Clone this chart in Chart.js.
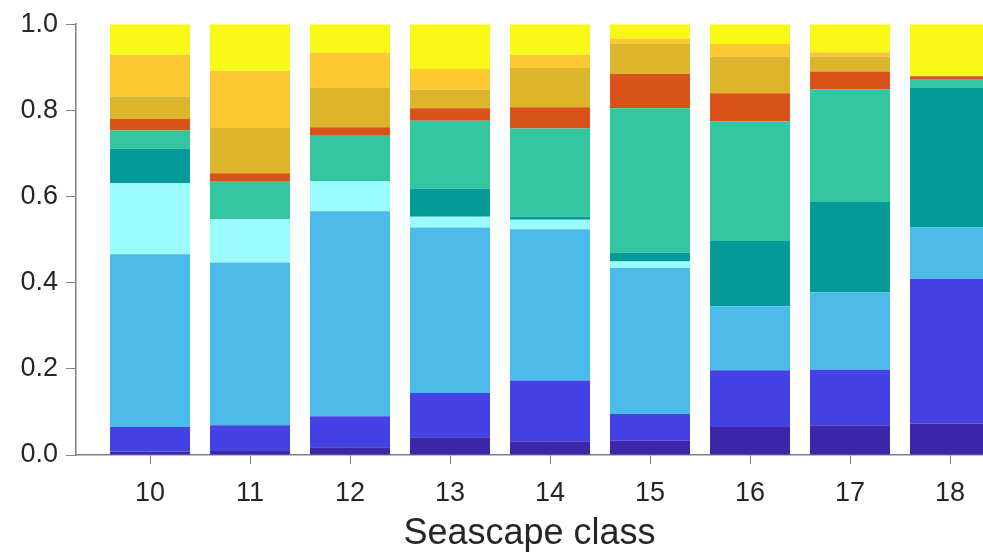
<!DOCTYPE html>
<html>
<head>
<meta charset="utf-8">
<title>Seascape class composition</title>
<script src="https://cdn.jsdelivr.net/npm/chart.js@4.4.0/dist/chart.umd.min.js"></script>
<style>
  html, body { margin: 0; padding: 0; background: #ffffff; }
  #wrap { width: 983px; height: 556px; }
</style>
</head>
<body>
<div id="wrap"><canvas id="seascapeChart" width="983" height="556"></canvas></div>
<script>
// seascape classes on the x axis
const seascapeClasses = [10, 11, 12, 13, 14, 15, 16, 17, 18];
const xTicks = [10, 11, 12, 13, 14, 15, 16, 17, 18];
const yTicks = [0, 0.2, 0.4, 0.6, 0.8, 1.0];

// fractions per class, bottom segment first
const group1 = [0.008, 0.009, 0.018, 0.041, 0.032, 0.033, 0.065, 0.069, 0.073];
const group2 = [0.057, 0.060, 0.072, 0.103, 0.141, 0.062, 0.132, 0.129, 0.336];
const group3 = [0.401, 0.378, 0.476, 0.384, 0.351, 0.339, 0.148, 0.180, 0.119];
const group4 = [0.165, 0.100, 0.070, 0.025, 0.022, 0.015, 0.000, 0.000, 0.000];
const group5 = [0.080, 0.000, 0.000, 0.065, 0.007, 0.021, 0.152, 0.209, 0.324];
const group6 = [0.042, 0.087, 0.105, 0.158, 0.205, 0.335, 0.278, 0.262, 0.019];
const group7 = [0.027, 0.020, 0.020, 0.029, 0.049, 0.080, 0.065, 0.041, 0.008];
const group8 = [0.052, 0.105, 0.092, 0.043, 0.092, 0.069, 0.085, 0.035, 0.000];
const group9 = [0.097, 0.133, 0.081, 0.048, 0.030, 0.013, 0.029, 0.010, 0.000];
const group10 = [0.071, 0.108, 0.066, 0.104, 0.071, 0.033, 0.046, 0.065, 0.121];

const groups = [group1, group2, group3, group4, group5, group6, group7, group8, group9, group10];
const groupColors = [
  '#3d27a9', '#4542e5', '#4dbbea', '#9afcfe', '#049a9a',
  '#33c6a0', '#d95319', '#dcb52a', '#fdc932', '#f9f816'
];

const axisColor = '#7f7f7f';
const textColor = '#262626';
const fontFamily = '"Liberation Sans", Arial, Helvetica, sans-serif';

const ctx = document.getElementById('seascapeChart').getContext('2d');
new Chart(ctx, {
  type: 'bar',
  data: {
    labels: seascapeClasses,
    datasets: groups.map((vals, i) => ({
      label: 'Group ' + (i + 1),
      data: vals,
      backgroundColor: groupColors[i],
      borderWidth: 0,
      barPercentage: 0.8,
      categoryPercentage: 1.0
    }))
  },
  options: {
    responsive: false,
    animation: false,
    layout: { padding: { top: 22, right: 0, left: 0, bottom: 0 } },
    plugins: {
      legend: { display: false },
      tooltip: { enabled: false }
    },
    scales: {
      x: {
        type: 'linear',
        stacked: true,
        offset: false,
        min: 9.26,
        max: 18.33,
        afterBuildTicks: (scale) => { scale.ticks = xTicks.map(v => ({ value: v })); },
        afterFit: (scale) => { scale.height = 101; },
        grid: { offset: false, drawOnChartArea: false, drawTicks: true, tickLength: 9, color: axisColor },
        border: { display: true, color: axisColor, width: 1.5 },
        ticks: {
          color: textColor,
          padding: 13,
          maxRotation: 0,
          font: { family: fontFamily, size: 27 },
          callback: (v) => String(v)
        },
        title: {
          display: true,
          text: 'Seascape class',
          color: textColor,
          padding: { top: 0, bottom: 0 },
          font: { family: fontFamily, size: 36 }
        }
      },
      y: {
        stacked: true,
        min: 0,
        max: 1,
        afterBuildTicks: (scale) => { scale.ticks = yTicks.map(v => ({ value: v })); },
        afterFit: (scale) => { scale.width = 76; },
        grid: { drawOnChartArea: false, drawTicks: true, tickLength: 10, color: axisColor },
        border: { display: true, color: axisColor, width: 1.5 },
        ticks: {
          color: textColor,
          padding: 8,
          font: { family: fontFamily, size: 27 },
          callback: (v) => Number(v).toFixed(1)
        }
      }
    }
  }
});
</script>
</body>
</html>
